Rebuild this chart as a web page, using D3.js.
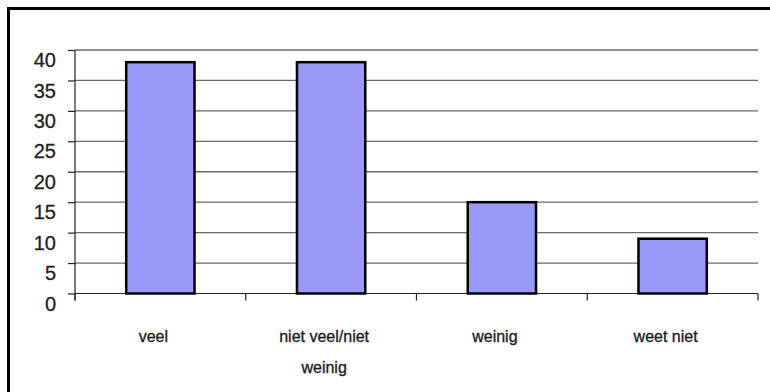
<!DOCTYPE html>
<html>
<head>
<meta charset="utf-8">
<script src="https://cdn.jsdelivr.net/npm/d3@7"></script>
<style>
  html, body { margin: 0; padding: 0; background: #fff; }
  svg { display: block; }
</style>
</head>
<body>
<svg id="chart" width="770" height="392"></svg>
<script>
const categories = ["veel", "niet veel/niet weinig", "weinig", "weet niet"];
const categoryLines = [["veel"], ["niet veel/niet", "weinig"], ["weinig"], ["weet niet"]];
const values = [38, 38, 15, 9];
const yTicks = [0, 5, 10, 15, 20, 25, 30, 35, 40];

(function () {
const svg = d3.select("#chart");
const mLeft = 75, mRight = 758, mTop = 50, mBottom = 293.5;

// outer frame (extends past right/bottom edges)
svg.append("rect")
  .attr("x", 8.5).attr("y", 8.5)
  .attr("width", 800).attr("height", 420)
  .attr("fill", "none").attr("stroke", "#000").attr("stroke-width", 3);

const x = d3.scaleBand().domain(categories).range([mLeft, mRight]).paddingInner(0).paddingOuter(0);
const y = d3.scaleLinear().domain([0, 40]).range([mBottom, mTop]);

// gridlines
svg.append("g").selectAll("line")
  .data(yTicks.filter(d => d > 0))
  .join("line")
  .attr("x1", mLeft).attr("x2", mRight)
  .attr("y1", d => y(d)).attr("y2", d => y(d))
  .attr("stroke", "#6a6a6a").attr("stroke-width", 1.3);

// y axis
const yAxis = d3.axisLeft(y).tickValues(yTicks).tickSize(7).tickPadding(12);
const gy = svg.append("g").attr("transform", `translate(${mLeft},0)`).call(yAxis);
gy.select(".domain").remove();
gy.selectAll(".tick line").attr("stroke", "#222").attr("stroke-width", 1.2);
gy.selectAll(".tick text")
  .attr("font-family", "Liberation Sans, Arial, sans-serif")
  .attr("font-size", 20)
  .attr("fill", "#1e1e1e")
  .attr("stroke", "#1e1e1e")
  .attr("stroke-width", 0.3)
  .attr("dy", "0.83em");
svg.append("line")
  .attr("x1", mLeft).attr("x2", mLeft)
  .attr("y1", mTop).attr("y2", mBottom + 7)
  .attr("stroke", "#222").attr("stroke-width", 1.2);

// x axis baseline & ticks
svg.append("line")
  .attr("x1", mLeft).attr("x2", mRight)
  .attr("y1", mBottom).attr("y2", mBottom)
  .attr("stroke", "#222").attr("stroke-width", 1.2);
const tickXs = categories.map(c => x(c)).concat([x(categories[categories.length - 1]) + x.bandwidth()]);
svg.append("g").selectAll("line")
  .data(tickXs)
  .join("line")
  .attr("x1", d => d).attr("x2", d => d)
  .attr("y1", mBottom).attr("y2", mBottom + 7)
  .attr("stroke", "#222").attr("stroke-width", 1.2);

// bars
const bw = x.bandwidth() * 0.4;
svg.append("g").selectAll("rect")
  .data(values)
  .join("rect")
  .attr("x", (d, i) => x(categories[i]) + x.bandwidth() / 2 - bw / 2)
  .attr("y", d => y(d))
  .attr("width", bw)
  .attr("height", d => y(0) - y(d))
  .attr("fill", "#9999f8")
  .attr("stroke", "#000")
  .attr("stroke-width", 2.5);

// x labels
const lbl = svg.append("g");
categoryLines.forEach((lines, i) => {
  const cx = x(categories[i]) + x.bandwidth() / 2 - 7;
  lines.forEach((t, j) => {
    lbl.append("text")
      .attr("x", cx)
      .attr("y", 342 + j * 31)
      .attr("text-anchor", "middle")
      .attr("font-family", "Liberation Sans, Arial, sans-serif")
      .attr("font-size", 16)
      .attr("fill", "#1e1e1e")
      .attr("stroke", "#1e1e1e")
      .attr("stroke-width", 0.35)
      .text(t);
  });
});
})();
</script>
</body>
</html>
